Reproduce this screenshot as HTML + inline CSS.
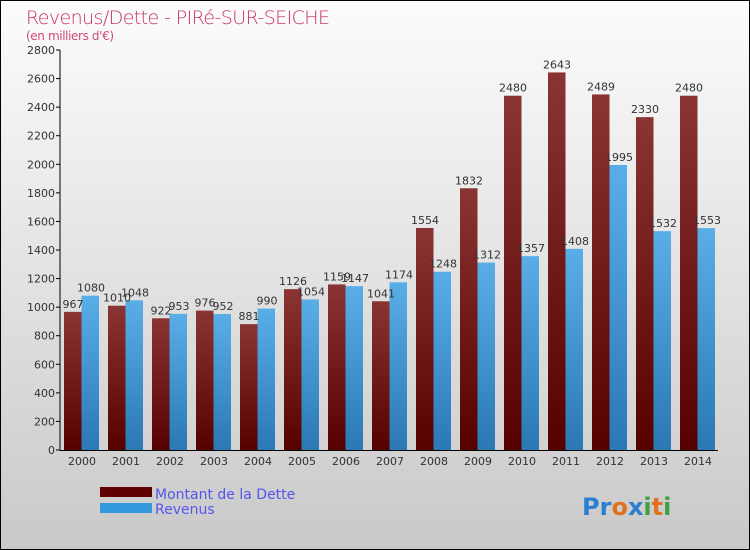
<!DOCTYPE html>
<html><head><meta charset="utf-8"><style>
body{margin:0}
#c{width:750px;height:550px;position:relative;box-sizing:border-box;border:1px solid #000;background:linear-gradient(#fcfcfc,#c9c9c9);overflow:hidden;font-family:"DejaVu Sans","Liberation Sans",sans-serif}
</style></head><body>
<div id="c">
<svg width="750" height="550" style="position:absolute;left:-1px;top:-1px" id="svg">
<defs>
<linearGradient id="gd" x1="0" y1="0" x2="0" y2="1"><stop offset="0" stop-color="#8a3434"/><stop offset="1" stop-color="#560000"/></linearGradient>
<linearGradient id="gr" x1="0" y1="0" x2="0" y2="1"><stop offset="0" stop-color="#5aaee8"/><stop offset="1" stop-color="#2a78b4"/></linearGradient>
</defs>
<text x="26" y="24" font-size="19" fill="#c8365e" style="font-family:'DejaVu Sans',sans-serif;font-weight:200" textLength="304">Revenus/Dette - PIRé-SUR-SEICHE</text>
<text x="26" y="40" font-size="12" fill="#d04a72" textLength="88">(en milliers d'€)</text>
<g id="plot"></g>
<g>
<rect x="100" y="487" width="52" height="10" fill="#600000"/>
<text x="155" y="499" font-size="14" fill="#5555ee">Montant de la Dette</text>
<rect x="100" y="503" width="52" height="10" fill="#3399dd"/>
<text x="155" y="514" font-size="14" fill="#5555ee">Revenus</text>
</g>
<text x="582" y="515" font-size="24" font-weight="bold"><tspan fill="#2a7fd0">Pr</tspan><tspan fill="#e07020">o</tspan><tspan fill="#2a7fd0">x</tspan><tspan fill="#40a040">i</tspan><tspan fill="#e07020">t</tspan><tspan fill="#40a040">i</tspan></text>
</svg>
</div>
<script>
const years=[2000,2001,2002,2003,2004,2005,2006,2007,2008,2009,2010,2011,2012,2013,2014];
const dette=[967,1010,922,976,881,1126,1159,1041,1554,1832,2480,2643,2489,2330,2480];
const revenus=[1080,1048,953,952,990,1054,1147,1174,1248,1312,1357,1408,1995,1532,1553];
const yTicks=[0,200,400,600,800,1000,1200,1400,1600,1800,2000,2200,2400,2600,2800];
const NS="http://www.w3.org/2000/svg";
const g=document.getElementById('plot');
const y0=450,ppu=400/2800;
function y(v){return y0-v*ppu}
function x(i){return 64+44*i}
function mk(t,a,p){const e=document.createElementNS(NS,t);for(const k in a)e.setAttribute(k,a[k]);(p||g).appendChild(e);return e}
yTicks.forEach(v=>{
 const l=mk('line',{x1:56,x2:60,y1:y(v),y2:y(v),stroke:'#000'});
 
 
 const t=mk('text',{x:55,y:y(v)+4,'font-size':11,fill:'#333','text-anchor':'end'});
 t.textContent=v;
 
 
});
years.forEach((yr,i)=>{
 const b1=mk('rect',{x:x(i),y:y(dette[i]),width:17.5,height:dette[i]*ppu,fill:'url(#gd)'});
 
 
 const b2=mk('rect',{x:x(i)+17.5,y:y(revenus[i]),width:17.5,height:revenus[i]*ppu,fill:'url(#gr)'});
 
 
 const t1=mk('text',{x:x(i)+9,y:y(dette[i])-4,'font-size':11,fill:'#333','text-anchor':'middle'});
 t1.textContent=dette[i];
 
 
 const t2=mk('text',{x:x(i)+27,y:y(revenus[i])-4,'font-size':11,fill:'#333','text-anchor':'middle'});
 t2.textContent=revenus[i];
 
 
 const xl=mk('text',{x:x(i)+18,y:465,'font-size':11,fill:'#333','text-anchor':'middle'});
 xl.textContent=yr;
 
 
});
const ya=mk('line',{x1:60,x2:60,y1:50,y2:450,stroke:'#000'});


const xa=mk('line',{x1:60,x2:718,y1:450.5,y2:450.5,stroke:'#000'});


</script>
</body></html>
